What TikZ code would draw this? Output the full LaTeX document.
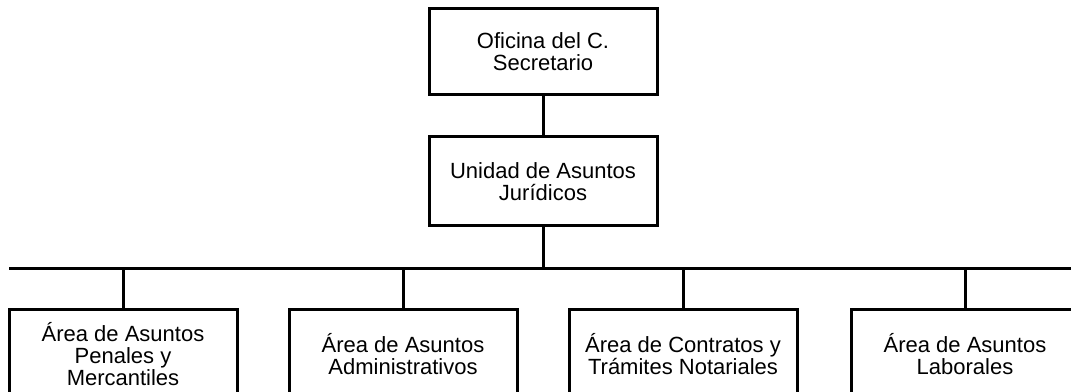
\documentclass[tikz,border=0pt]{standalone}
\usepackage{fontspec}
\setmainfont{Liberation Sans}

\begin{document}
\begin{tikzpicture}[x=0.75pt,y=-0.75pt,
  unit/.style={draw, line width=2.25pt, minimum width=171pt, inner sep=0pt,
    align=center, font=\fontsize{16.5}{16.5}\selectfont},
  link/.style={line width=2.25pt}]
\useasboundingbox (0,0) rectangle (1071,392);
\clip (0,0) rectangle (1071,392);

\node[unit, minimum height=64.5pt] (ofc) at (543,52) {Oficina del C.\\Secretario};
\node[unit, minimum height=66.75pt] (uaj) at (543,181.5) {Unidad de Asuntos\\Jur\'idicos};

\node[unit, minimum height=67.5pt] (pen) at (123,354) {\'Area de Asuntos\\Penales y\\Mercantiles};
\node[unit, minimum height=67.5pt] (adm) at (403,354) {\'Area de Asuntos\\Administrativos};
\node[unit, minimum height=67.5pt] (con) at (683,354) {\'Area de Contratos y\\Tr\'amites Notariales};
\node[unit, minimum height=67.5pt] (lab) at (965,354) {\'Area de Asuntos\\Laborales};

\coordinate (busL) at (9,268);
\coordinate (busR) at (1080,268);

\draw[link] (ofc) -- (uaj);
\draw[link] (busL) -- (busR);
\draw[link] (uaj.south) -- (uaj.south |- busL);
\draw[link] (pen.north) -- (pen.north |- busL);
\draw[link] (adm.north) -- (adm.north |- busL);
\draw[link] (con.north) -- (con.north |- busL);
\draw[link] (lab.north) -- (lab.north |- busL);

\end{tikzpicture}
\end{document}
